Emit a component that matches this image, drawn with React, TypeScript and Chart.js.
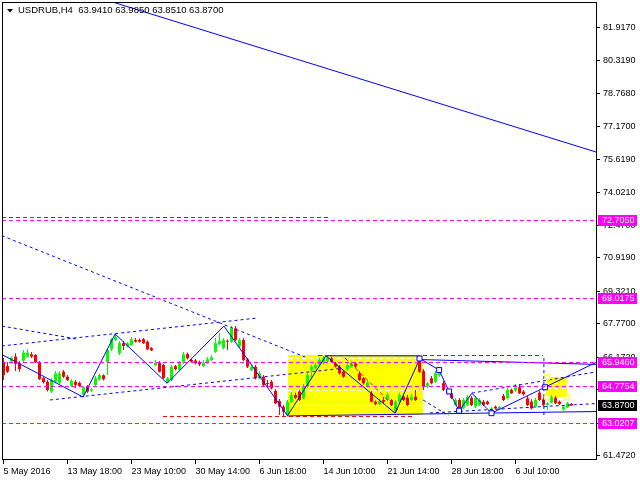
import React, { useEffect, useRef } from "react";
import { Chart, registerables } from "chart.js";

Chart.register(...registerables);

const FONT = "'Liberation Sans', Arial, sans-serif";
const symbol = "USDRUB,H4";

// x axis (candle index) tick positions and labels
const xTickIndex = [0, 16, 32, 48, 64, 80, 96, 112, 128];
const xTickLabels = ["5 May 2016", "13 May 18:00", "23 May 10:00", "30 May 14:00", "6 Jun 18:00", "14 Jun 10:00", "21 Jun 14:00", "28 Jun 18:00", "6 Jul 10:00"];
const xMin = -0.375;
const xMax = 148.125;

// price axis
const yTickValues = [81.917, 80.319, 78.768, 77.17, 75.619, 74.021, 72.47, 70.919, 69.321, 67.77, 66.172, 64.621, 63.023, 61.472];
const yMin = 61.3145;
const yMax = 83.1226;

// H4 candles
const opens = [
  65.90, 65.75, 65.96, 66.20, 65.88, 66.01, 66.20, 66.31, 66.28, 65.91,
  65.17, 65.00, 64.53, 65.00, 64.95, 65.48, 65.24, 64.80, 65.00, 64.95,
  64.37, 64.77, 64.58, 64.85, 65.12, 65.31, 65.94, 66.55, 66.99, 66.36,
  66.84, 66.69, 66.76, 66.99, 66.99, 67.03, 66.91, 66.60, 65.80, 65.91,
  65.80, 65.00, 65.08, 65.75, 65.56, 65.91, 66.33, 66.04, 66.01, 65.94,
  65.75, 65.88, 66.04, 66.43, 66.79, 66.60, 66.95, 66.91, 67.55, 66.69,
  66.99, 66.07, 65.56, 65.72, 65.17, 65.24, 64.94, 65.00, 64.56, 64.08,
  63.81, 63.42, 64.05, 64.37, 64.53, 64.21, 64.77, 65.56, 65.64, 65.80,
  65.88, 65.99, 66.12, 65.88, 65.72, 65.48, 65.61, 65.72, 65.88, 65.40,
  65.17, 64.81, 64.45, 64.05, 63.93, 64.13, 64.13, 64.13, 63.57, 64.05,
  64.29, 64.24, 64.13, 64.29, 66.04, 65.51, 64.77, 65.17, 65.00, 65.32,
  64.93, 64.61, 64.45, 63.89, 64.13, 63.73, 63.89, 64.23, 63.81, 63.89,
  64.05, 64.05, 63.57, 63.81, 63.73, 64.32, 64.21, 64.61, 64.58, 64.74,
  64.53, 64.21, 64.05, 63.81, 64.48, 64.16, 63.89, 64.00, 64.24, 64.05,
  63.69, 63.78, 63.941,
];
const highs = [
  66.13, 65.94, 66.23, 66.36, 65.99, 66.52, 66.56, 66.42, 66.33, 65.99,
  65.23, 65.08, 65.18, 65.51, 65.51, 65.56, 65.32, 65.13, 65.08, 65.01,
  64.80, 64.85, 64.70, 65.28, 65.40, 65.36, 66.61, 67.09, 67.28, 66.95,
  66.95, 66.90, 67.14, 67.09, 67.07, 67.09, 66.97, 66.66, 66.04, 65.99,
  65.87, 65.23, 65.80, 65.80, 65.99, 66.42, 66.40, 66.09, 66.09, 66.02,
  66.04, 66.18, 66.28, 67.09, 67.33, 67.09, 67.02, 67.66, 67.66, 67.09,
  67.09, 66.13, 65.85, 65.80, 65.51, 65.32, 65.08, 65.08, 64.66, 64.18,
  63.89, 64.13, 64.51, 64.47, 64.61, 64.89, 65.42, 65.80, 65.90, 66.13,
  66.23, 66.24, 66.21, 65.94, 65.80, 65.56, 65.90, 65.99, 65.94, 65.51,
  65.23, 65.04, 64.56, 64.11, 64.18, 64.27, 64.47, 64.18, 64.13, 64.47,
  64.37, 64.37, 64.42, 64.61, 66.23, 65.61, 64.99, 65.28, 65.51, 65.61,
  65.04, 64.70, 64.51, 64.23, 64.23, 64.23, 64.37, 64.32, 64.30, 64.23,
  64.13, 64.11, 63.80, 63.87, 63.84, 64.42, 64.70, 64.68, 64.89, 64.89,
  64.61, 64.32, 64.16, 64.23, 64.58, 64.25, 64.04, 64.37, 64.32, 64.11,
  63.89, 64.04, 63.985,
];
const lows = [
  65.08, 65.42, 65.85, 65.51, 65.48, 65.90, 66.13, 66.13, 65.90, 65.08,
  64.92, 64.53, 64.46, 64.94, 64.89, 65.18, 65.04, 64.75, 64.69, 64.75,
  64.29, 64.46, 64.51, 64.80, 65.06, 65.06, 65.32, 66.47, 66.95, 66.28,
  66.52, 66.64, 66.71, 66.87, 66.87, 66.80, 66.52, 66.47, 65.75, 65.44,
  65.13, 64.93, 65.04, 65.54, 65.51, 65.85, 66.06, 65.92, 65.82, 65.75,
  65.71, 65.85, 65.99, 66.37, 66.76, 66.54, 66.52, 66.85, 66.95, 66.61,
  65.99, 65.66, 65.51, 65.11, 65.11, 64.80, 64.70, 64.63, 63.94, 63.42,
  63.37, 63.37, 63.99, 64.18, 64.08, 64.15, 64.70, 65.17, 65.59, 65.75,
  65.82, 65.94, 65.92, 65.68, 65.35, 65.18, 65.54, 65.68, 65.66, 65.04,
  64.87, 64.75, 64.01, 63.87, 63.89, 63.99, 64.08, 63.84, 63.51, 64.01,
  64.08, 63.84, 64.08, 64.08, 65.42, 64.61, 64.70, 64.87, 64.94, 65.23,
  64.56, 64.39, 64.18, 63.84, 63.56, 63.68, 63.84, 63.84, 63.75, 63.84,
  63.84, 63.89, 63.51, 63.68, 63.70, 64.08, 64.15, 64.42, 64.51, 64.42,
  64.34, 63.84, 63.68, 63.75, 64.08, 63.84, 63.65, 63.96, 63.94, 63.89,
  63.61, 63.75, 63.851,
];
const closes = [
  65.32, 65.48, 66.15, 65.85, 65.61, 66.39, 66.39, 66.20, 65.93, 65.13,
  64.98, 64.61, 65.08, 65.40, 65.40, 65.24, 65.08, 65.05, 64.85, 64.80,
  64.74, 64.53, 64.64, 65.17, 65.32, 65.12, 66.52, 67.03, 67.15, 66.84,
  66.71, 66.84, 67.03, 66.91, 66.91, 66.84, 66.55, 66.50, 65.91, 65.48,
  65.18, 65.17, 65.72, 65.60, 65.91, 66.31, 66.12, 65.96, 65.88, 65.83,
  65.91, 66.07, 66.17, 66.84, 66.95, 66.99, 66.91, 67.55, 66.99, 66.99,
  66.04, 65.72, 65.72, 65.17, 65.40, 64.85, 64.89, 64.69, 63.97, 63.81,
  63.57, 64.05, 64.37, 64.23, 64.13, 64.77, 65.32, 65.72, 65.80, 66.04,
  66.12, 66.15, 65.96, 65.72, 65.40, 65.24, 65.80, 65.88, 65.72, 65.08,
  64.93, 64.98, 64.05, 63.93, 64.08, 64.05, 64.37, 63.89, 64.05, 64.37,
  64.13, 63.89, 64.29, 64.13, 65.48, 64.77, 64.93, 64.93, 65.40, 65.51,
  64.61, 64.45, 64.23, 64.13, 63.65, 64.13, 64.29, 63.89, 64.23, 64.13,
  63.89, 63.94, 63.73, 63.73, 63.81, 64.13, 64.61, 64.45, 64.74, 64.45,
  64.40, 63.89, 63.73, 64.13, 64.13, 63.89, 63.97, 64.26, 63.97, 63.94,
  63.81, 63.97, 63.870,
];

// horizontal price levels (magenta) and their labels
const levelLines = [72.705, 69.0175, 65.946, 64.7754, 63.0207];

// analysis objects, [candle index, price]
const trendSolid = [[25.6, 83.22], [148.2, 75.96]];
const zigzag = [
  [-0.2, 66.28], [19.9, 64.27], [27.9, 67.28], [40.9, 64.93], [55.1, 67.66], [71.0, 63.38],
  [80.6, 66.24], [97.9, 63.5], [104.1, 66.11], [108.9, 65.56], [111.4, 64.54], [113.9, 63.62],
  [117.1, 64.45], [122.0, 63.5], [135.4, 64.74], [148.1, 65.92],
];
const rangeTop = [[80.6, 66.24], [104.1, 66.24]];
const rangeTopRight = [[104.1, 66.06], [148.1, 65.83]];
const rangeBottom = [[70.9, 63.37], [148.1, 63.58]];
const blueDashed = [
  [[-0.4, 71.97], [75.4, 66.18]],
  [[-0.4, 67.66], [18.4, 67.04]],
  [[-0.4, 66.71], [63.4, 68.04]],
  [[11.6, 64.13], [84.1, 65.63]],
  [[117.1, 64.46], [148.1, 65.47]],
  [[106.6, 63.51], [148.1, 63.96]],
  [[135.1, 66.13], [135.1, 63.32]],
  [[104.9, 64.13], [111.4, 63.37]],
];
// horizontal dashed red levels: [from index, to index, price]
const redLevels = [
  [-0.4, 81.6, 72.848],
  [39.9, 102.1, 63.39],
  [78.6, 134.9, 66.28],
];
const redDiagonal = [[85.4, 66.13], [98.6, 63.65]];
const yellowBoxes = [
  [71.1, 104.9, 66.28, 63.44],
  [135.6, 140.9, 65.24, 64.27],
];
// white levels inside the yellow boxes: [from, to, price, dashed]
const whiteLevels = [
  [71.1, 104.9, 66.15, 1],
  [71.1, 104.9, 64.61, 1],
  [71.1, 104.9, 63.89, 0],
  [135.9, 140.6, 64.96, 1],
  [135.9, 140.6, 64.71, 1],
];
const blueSquares = [[104.0, 66.11], [108.9, 65.56], [111.4, 64.54], [113.9, 63.62], [122.0, 63.5], [135.4, 64.74]];
const yellowSquares = [[135.95, 65.22], [140.95, 64.26], [135.95, 64.26]];

const GREEN = "#00FF00";
const RED = "#FF0000";
const BLUE = "#0000FF";
const MAGENTA = "#FF00FF";

const seg = (pts: number[][], color: string, dash: number[] = [], order = 0) => ({
  type: "line" as const,
  data: pts.map(([px, py]) => ({ x: px, y: py })),
  borderColor: color,
  borderWidth: 1,
  borderDash: dash,
  pointRadius: 0,
  pointHoverRadius: 0,
  fill: false,
  tension: 0,
  order,
});

// crisp horizontal line through the scales
const hLine = (chart: any, from: number, to: number, price: number, color: string, dashed: boolean) => {
  const { ctx, scales } = chart;
  const x1 = scales.x.getPixelForValue(from);
  const x2 = scales.x.getPixelForValue(to);
  const py = Math.round(scales.y.getPixelForValue(price)) + 0.5;
  ctx.strokeStyle = color;
  ctx.lineWidth = 1;
  ctx.setLineDash(dashed ? [4, 3] : []);
  ctx.beginPath();
  ctx.moveTo(Math.round(x1), py);
  ctx.lineTo(Math.round(x2), py);
  ctx.stroke();
};

const overlayPlugin = {
  id: "mt4overlay",
  beforeDraw(chart: any) {
    const { ctx, width, height } = chart;
    ctx.save();
    ctx.fillStyle = "#ffffff";
    ctx.fillRect(0, 0, width, height);
    ctx.restore();
  },
  beforeDatasetsDraw(chart: any) {
    const { ctx, chartArea: ca, scales } = chart;
    const xs = scales.x;
    const ys = scales.y;
    ctx.save();
    ctx.beginPath();
    ctx.rect(ca.left, ca.top, ca.right - ca.left, ca.bottom - ca.top);
    ctx.clip();
    ctx.fillStyle = "#FFFF00";
    yellowBoxes.forEach(([a, b, p1, p2]) => {
      const x1 = xs.getPixelForValue(a);
      const x2 = xs.getPixelForValue(b);
      const y1 = ys.getPixelForValue(p1);
      const y2 = ys.getPixelForValue(p2);
      ctx.fillRect(Math.round(Math.min(x1, x2)), Math.round(Math.min(y1, y2)), Math.round(Math.abs(x2 - x1)), Math.round(Math.abs(y2 - y1)));
    });
    whiteLevels.forEach(([a, b, p, d]) => hLine(chart, a, b, p, "#FFFFFF", d === 1));
    ctx.restore();
  },
  afterDatasetsDraw(chart: any) {
    const { ctx, chartArea: ca } = chart;
    ctx.save();
    ctx.beginPath();
    ctx.rect(ca.left, ca.top, ca.right - ca.left, ca.bottom - ca.top);
    ctx.clip();
    redLevels.forEach(([a, b, p]) => hLine(chart, a, b, p, RED, true));
    levelLines.forEach((v) => hLine(chart, xMin, xMax, v, MAGENTA, true));
    ctx.restore();
  },
  afterDraw(chart: any) {
    const { ctx, chartArea: ca, scales } = chart;
    const ys = scales.y;
    ctx.save();
    ctx.strokeStyle = "#000";
    ctx.lineWidth = 1;
    ctx.strokeRect(ca.left + 0.5, ca.top + 0.5, ca.right - ca.left, ca.bottom - ca.top);

    // title
    const n = closes.length - 1;
    const title = `${symbol}  ${opens[n].toFixed(4)} ${highs[n].toFixed(4)} ${lows[n].toFixed(4)} ${closes[n].toFixed(4)}`;
    ctx.fillStyle = "#000";
    ctx.beginPath();
    ctx.moveTo(7, 9);
    ctx.lineTo(13, 9);
    ctx.lineTo(10, 12.5);
    ctx.closePath();
    ctx.fill();
    ctx.font = `9.5px ${FONT}`;
    ctx.textBaseline = "middle";
    ctx.textAlign = "left";
    ctx.fillText(title, 18, 10.5);

    // price labels on the axis
    ctx.font = `9px ${FONT}`;
    const drawLabel = (v: number, bg: string) => {
      const py = Math.round(ys.getPixelForValue(v));
      ctx.fillStyle = bg;
      ctx.fillRect(ca.right + 2, py - 5, 39, 11);
      ctx.fillStyle = "#fff";
      ctx.fillText(v.toFixed(4), ca.right + 6, py + 0.5);
    };
    levelLines.forEach((v) => drawLabel(v, MAGENTA));
    drawLabel(closes[n], "#000");
    ctx.restore();
  },
};

export default function App() {
  const ref = useRef<HTMLCanvasElement | null>(null);

  useEffect(() => {
    if (!ref.current) return;
    const colors = closes.map((c, i) => (c >= opens[i] ? GREEN : RED));
    const datasets: any[] = [];

    // candles (drawn below the analysis lines)
    datasets.push({
      type: "bar",
      data: closes.map((c, i) => ({ x: i, y: [opens[i], c] })),
      backgroundColor: colors,
      barThickness: 3,
      grouped: false,
      minBarLength: 1,
      borderWidth: 0,
      inflateAmount: 0,
      order: 1,
    });
    datasets.push({
      type: "bar",
      data: closes.map((c, i) => ({ x: i, y: [lows[i], highs[i]] })),
      backgroundColor: colors,
      barThickness: 1,
      grouped: false,
      borderWidth: 0,
      inflateAmount: 0,
      order: 1,
    });

    // markers
    datasets.push({
      type: "line",
      data: blueSquares.map(([px, py]) => ({ x: px, y: py })),
      showLine: false,
      pointStyle: "rect",
      pointRadius: 3.5,
      pointBackgroundColor: "#FFFFFF",
      pointBorderColor: BLUE,
      pointBorderWidth: 1,
      order: 0,
    });
    datasets.push({
      type: "line",
      data: yellowSquares.map(([px, py]) => ({ x: px, y: py })),
      showLine: false,
      pointStyle: "rect",
      pointRadius: 3.5,
      pointBackgroundColor: "#FFFFFF",
      pointBorderColor: "#FFFF00",
      pointBorderWidth: 1,
      order: 0,
    });

    // lines
    datasets.push(seg(trendSolid, BLUE));
    datasets.push(seg(zigzag, BLUE));
    datasets.push(seg(rangeTop, BLUE));
    datasets.push(seg(rangeTopRight, BLUE));
    datasets.push(seg(rangeBottom, BLUE));
    blueDashed.forEach((p) => datasets.push(seg(p, BLUE, [3, 3])));
    datasets.push(seg(redDiagonal, RED, [4, 3]));

    const font = { family: FONT, size: 9 };
    const chart = new Chart(ref.current, {
      type: "bar",
      data: { datasets },
      plugins: [overlayPlugin],
      options: {
        animation: false,
        responsive: false,
        devicePixelRatio: 1,
        events: [],
        layout: { autoPadding: false, padding: { left: 2, top: 2, right: 0, bottom: 0 } },
        plugins: { legend: { display: false }, tooltip: { enabled: false }, title: { display: false } },
        scales: {
          x: {
            type: "linear",
            min: xMin,
            max: xMax,
            offset: false,
            bounds: "data",
            afterBuildTicks: (s: any) => {
              s.ticks = xTickIndex.map((v) => ({ value: v }));
            },
            afterFit: (s: any) => {
              s.height = 21;
              s.paddingLeft = 0;
              s.paddingRight = 0;
            },
            grid: { display: true, drawOnChartArea: false, drawTicks: true, tickLength: 5, color: "#000", offset: false },
            border: { display: false },
            ticks: {
              autoSkip: false,
              maxRotation: 0,
              minRotation: 0,
              align: "start",
              padding: 2,
              color: "#000",
              font,
              callback: (_v: any, i: number) => xTickLabels[i],
            },
          },
          y: {
            type: "linear",
            position: "right",
            min: yMin,
            max: yMax,
            bounds: "data",
            beginAtZero: false,
            afterBuildTicks: (s: any) => {
              s.ticks = yTickValues.map((v) => ({ value: v }));
            },
            afterFit: (s: any) => {
              s.width = 44;
              s.paddingTop = 0;
              s.paddingBottom = 0;
            },
            grid: { display: true, drawOnChartArea: false, drawTicks: true, tickLength: 4, color: "#000" },
            border: { display: false },
            ticks: {
              autoSkip: false,
              padding: 3,
              color: "#000",
              font,
              callback: (v: any) => Number(v).toFixed(4),
            },
          },
        },
      } as any,
    });
    return () => chart.destroy();
  }, []);

  return (
    <div style={{ position: "fixed", left: 0, top: 0, width: 640, height: 480, background: "#fff" }}>
      <canvas ref={ref} width={640} height={480} style={{ display: "block", width: 640, height: 480 }} />
    </div>
  );
}
